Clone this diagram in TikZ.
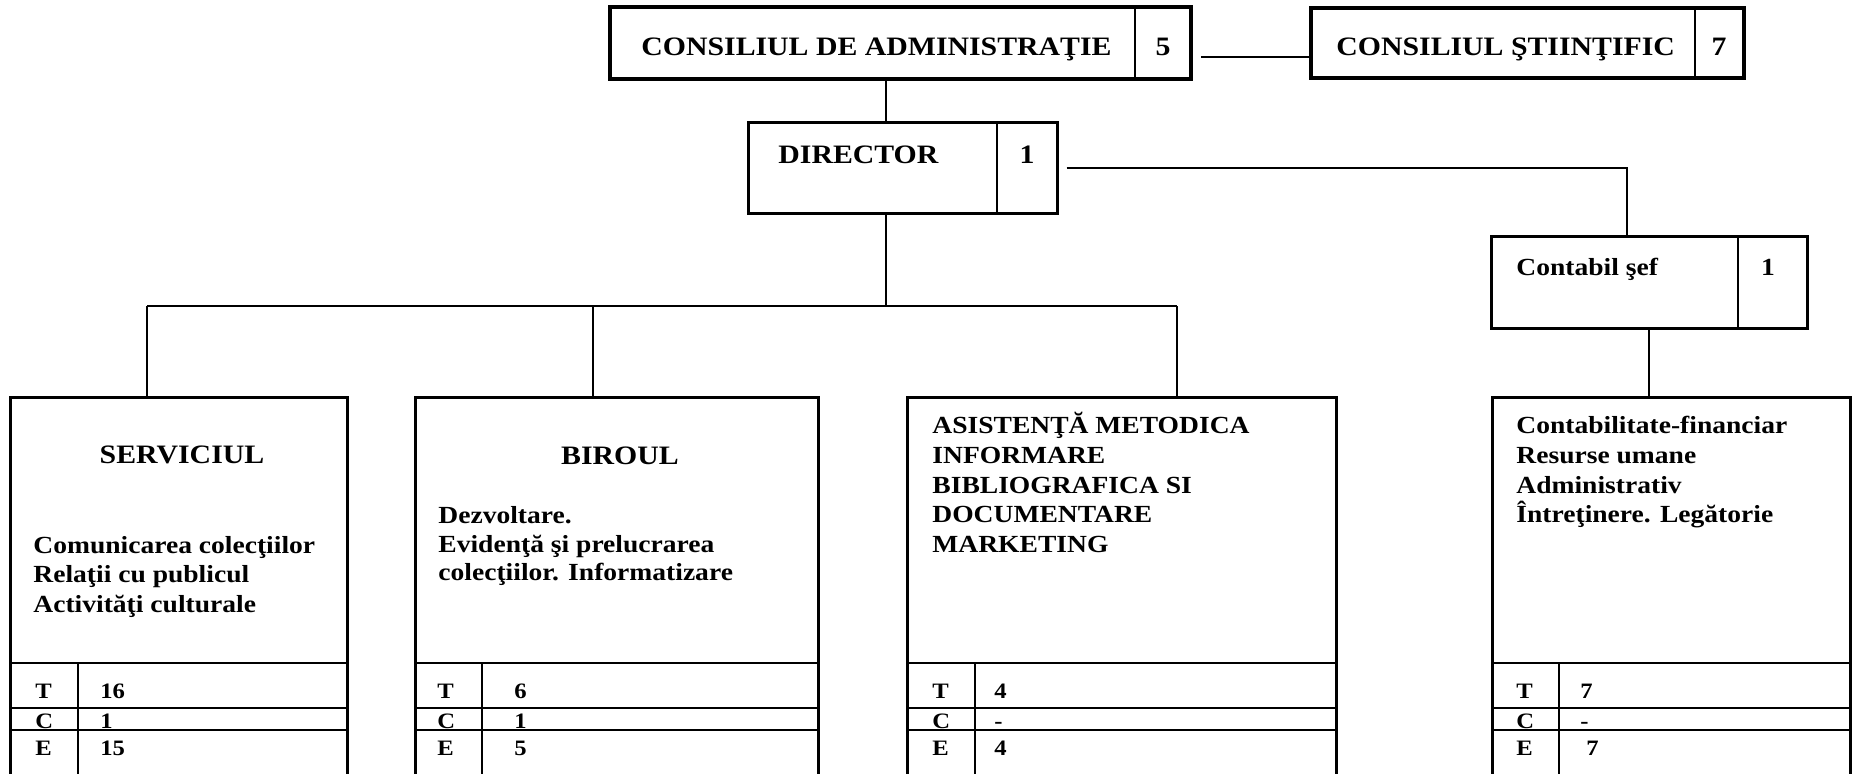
\documentclass[tikz,border=0pt]{standalone}
\usepackage{fontspec}
\setmainfont{Liberation Serif}[FakeStretch=1.12]
\usetikzlibrary{fit}
\begin{document}
\begin{tikzpicture}[x=0.5pt,y=-0.5pt]
\tikzset{
  outer/.style={draw, line width=1.5pt, inner sep=0pt},
  heavy/.style={draw, line width=2pt, inner sep=0pt},
  rule/.style={line width=1.1pt},
  link/.style={line width=1pt},
  ttl/.style={inner sep=0pt, font=\fontsize{13.3}{15}\selectfont\bfseries},
  big/.style={anchor=base, inner sep=0pt, font=\fontsize{13.3}{15}\selectfont\bfseries},
  txt/.style={anchor=base west, inner sep=0pt, font=\fontsize{12.3}{14}\selectfont\bfseries},
  num/.style={anchor=base, inner sep=0pt, font=\fontsize{12.3}{14}\selectfont\bfseries},
  tab/.style={anchor=base west, inner sep=0pt, font=\fontsize{11}{12}\selectfont\bfseries},
}
\fill[white] (0,0) rectangle (1854,773);
\useasboundingbox (0,0) rectangle (1854,773);

% ---------- top level ----------
\node[heavy, fit={(610,7)(1191,79)}] (cda) {};
\draw[rule] (1135,7) -- (1135,79);
\node[ttl, anchor=base west] (cdat) at (641,55) {CONSILIUL DE ADMINISTRAŢIE};
\node[ttl, anchor=base] (cdan) at (1163,55) {5};

\node[heavy, fit={(1311,8)(1744,78)}] (cs) {};
\draw[rule] (1695,8) -- (1695,78);
\node[ttl, anchor=base west] (cst) at (1336,55) {CONSILIUL ŞTIINŢIFIC};
\node[ttl, anchor=base] (csn) at (1719,55) {7};

\node[outer, fit={(748,122)(1057,213)}] (dir) {};
\draw[rule] (997,122) -- (997,213);
\node[ttl, anchor=base west] (dirt) at (778,163) {DIRECTOR};
\node[ttl, anchor=base] (dirn) at (1027,163) {1};

\node[outer, fit={(1491,236)(1807,328)}] (cont) {};
\draw[rule] (1738,236) -- (1738,328);
\node[txt] (contt) at (1516,275) {Contabil şef};
\node[num] (contn) at (1768,275) {1};

% ---------- bottom boxes ----------
\node[outer, fit={(10,397)(347,800)}] (b1) {};
\node[outer, fit={(415,397)(818,800)}] (b2) {};
\node[outer, fit={(907,397)(1336,800)}] (b3) {};
\node[outer, fit={(1492,397)(1850,800)}] (b4) {};

\foreach \l/\r/\d in {10/347/78, 415/818/482, 907/1336/975, 1492/1850/1559}{
  \draw[rule] (\l,663) -- (\r,663);
  \draw[rule] (\l,708) -- (\r,708);
  \draw[rule] (\l,730) -- (\r,730);
  \draw[rule] (\d,663) -- (\d,800);
}

% box 1
\node[big] (b1h) at (182,463) {SERVICIUL};
\node[txt] (b1a) at (33,553) {Comunicarea colecţiilor};
\node[txt] (b1b) at (33,582) {Relaţii cu publicul};
\node[txt] (b1c) at (33,612) {Activităţi culturale};
\node[tab] (b1T) at (35,698) {T};
\node[tab] (b1Tv) at (100,698) {16};
\node[tab] (b1C) at (35,728) {C};
\node[tab] (b1Cv) at (100,728) {1};
\node[tab] (b1E) at (35,755) {E};
\node[tab] (b1Ev) at (100,755) {15};

% box 2
\node[big] (b2h) at (620,464) {BIROUL};
\node[txt] (b2a) at (438,523) {Dezvoltare.};
\node[txt] (b2b) at (438,552) {Evidenţă şi prelucrarea};
\node[txt] (b2c) at (438,580) {colecţiilor. Informatizare};
\node[tab] (b2T) at (437,698) {T};
\node[tab] (b2Tv) at (514,698) {6};
\node[tab] (b2C) at (437,728) {C};
\node[tab] (b2Cv) at (514,728) {1};
\node[tab] (b2E) at (437,755) {E};
\node[tab] (b2Ev) at (514,755) {5};

% box 3
\node[txt] (b3a) at (932,433) {ASISTENŢĂ METODICA};
\node[txt] (b3b) at (932,463) {INFORMARE};
\node[txt] (b3c) at (932,493) {BIBLIOGRAFICA SI};
\node[txt] (b3d) at (932,522) {DOCUMENTARE};
\node[txt] (b3e) at (932,552) {MARKETING};
\node[tab] (b3T) at (932,698) {T};
\node[tab] (b3Tv) at (994,698) {4};
\node[tab] (b3C) at (932,728) {C};
\node[tab] (b3Cv) at (994,728) {-};
\node[tab] (b3E) at (932,755) {E};
\node[tab] (b3Ev) at (994,755) {4};

% box 4
\node[txt] (b4a) at (1516,433) {Contabilitate-financiar};
\node[txt] (b4b) at (1516,463) {Resurse umane};
\node[txt] (b4c) at (1516,493) {Administrativ};
\node[txt] (b4d) at (1516,522) {Întreţinere. Legătorie};
\node[tab] (b4T) at (1516,698) {T};
\node[tab] (b4Tv) at (1580,698) {7};
\node[tab] (b4C) at (1516,728) {C};
\node[tab] (b4Cv) at (1580,728) {-};
\node[tab] (b4E) at (1516,755) {E};
\node[tab] (b4Ev) at (1586,755) {7};

% ---------- connectors ----------
\coordinate (xa) at (886,0);
\coordinate (ya) at (0,57);
\coordinate (xb) at (1627,168);
\coordinate (bus) at (0,306);
\coordinate (x1) at (147,0);
\coordinate (x2) at (593,0);
\coordinate (x3) at (1177,0);
\coordinate (x4) at (1649,0);

\draw[link] (cda.south -| xa) -- (dir.north -| xa);
\draw[link, shorten <=4pt] (cda.east |- ya) -- (cs.west |- ya);
\draw[link, shorten <=4pt] (dir.east |- xb) -- (xb) -- (cont.north -| xb);
\draw[link] (dir.south -| xa) -- (xa |- bus);
\draw[link] (x1 |- bus) -- (x3 |- bus);
\draw[link] (x1 |- bus) -- (b1.north -| x1);
\draw[link] (x2 |- bus) -- (b2.north -| x2);
\draw[link] (x3 |- bus) -- (b3.north -| x3);
\draw[link] (cont.south -| x4) -- (b4.north -| x4);
\end{tikzpicture}
\end{document}
